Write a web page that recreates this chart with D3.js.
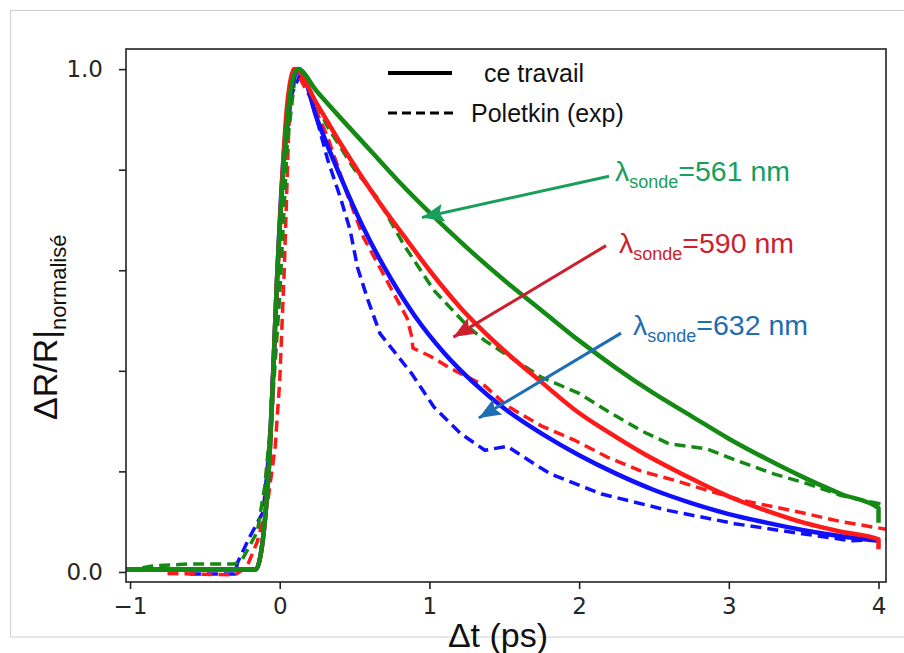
<!DOCTYPE html>
<html>
<head>
<meta charset="utf-8">
<script src="https://cdn.jsdelivr.net/npm/d3@7"></script>
<style>
  html, body { margin: 0; padding: 0; background: #fff; }
  svg { display: block; }
</style>
</head>
<body>
<svg id="chart" width="904" height="653"></svg>
<script>
// ---- data ----
const xTicks = [-1, 0, 1, 2, 3, 4];
const xTickLabels = ["\u22121", "0", "1", "2", "3", "4"];
const yTicks = [0, 0.2, 0.4, 0.6, 0.8, 1.0];
const yTickLabels = ["0.0", "", "", "", "", "1.0"];

const green561Model = [[-1.03,0.005],[-0.16,0.005],[-0.13,0.03],[-0.1,0.1],[-0.07,0.22],[-0.05,0.35],[-0.02,0.57],[0.02,0.78],[0.05,0.9],[0.08,0.97],[0.12,1.0],[0.25,0.955],[0.4,0.905],[0.6,0.84],[0.8,0.775],[1.0,0.715],[1.25,0.645],[1.5,0.58],[1.75,0.52],[2.0,0.46],[2.25,0.405],[2.5,0.355],[2.75,0.31],[3.0,0.265],[3.25,0.225],[3.5,0.188],[3.75,0.155],[4.0,0.127],[4.0,0.098]];
const red590Model = [[-1.03,0.005],[-0.16,0.005],[-0.13,0.03],[-0.1,0.1],[-0.07,0.22],[-0.05,0.35],[-0.02,0.57],[0.02,0.8],[0.05,0.93],[0.1,1.0],[0.25,0.93],[0.4,0.855],[0.55,0.785],[0.7,0.72],[0.85,0.66],[1.0,0.6],[1.2,0.528],[1.5,0.44],[1.75,0.377],[2.0,0.316],[2.2,0.277],[2.45,0.232],[2.7,0.193],[3.0,0.15],[3.25,0.122],[3.5,0.098],[3.75,0.08],[4.0,0.065],[4.0,0.045]];
const blue632Model = [[-1.03,0.005],[-0.16,0.005],[-0.13,0.03],[-0.1,0.1],[-0.07,0.22],[-0.05,0.35],[-0.02,0.57],[0.02,0.8],[0.06,0.93],[0.13,1.0],[0.25,0.9],[0.4,0.79],[0.55,0.69],[0.7,0.605],[0.9,0.51],[1.1,0.435],[1.3,0.375],[1.5,0.325],[1.75,0.275],[2.0,0.232],[2.25,0.195],[2.5,0.163],[2.75,0.137],[3.0,0.115],[3.25,0.098],[3.5,0.083],[3.75,0.071],[4.0,0.062]];

const green561Exp = [[-1.03,0.003],[-0.85,0.012],[-0.6,0.016],[-0.3,0.016],[-0.25,0.025],[-0.15,0.08],[-0.1,0.17],[-0.05,0.33],[0.0,0.55],[0.05,0.85],[0.1,0.98],[0.15,0.99],[0.32,0.885],[0.5,0.8],[0.65,0.745],[0.83,0.65],[1.03,0.56],[1.26,0.487],[1.37,0.46],[1.5,0.435],[1.75,0.387],[2.0,0.355],[2.2,0.318],[2.42,0.28],[2.6,0.255],[2.85,0.245],[3.05,0.222],[3.3,0.195],[3.52,0.176],[3.75,0.152],[4.0,0.136],[4.05,0.133]];
const red590Exp = [[-0.75,-0.003],[-0.3,-0.006],[-0.22,0.01],[-0.15,0.06],[-0.08,0.14],[-0.03,0.25],[0.0,0.38],[0.03,0.6],[0.06,0.88],[0.09,1.0],[0.12,0.99],[0.21,0.94],[0.32,0.865],[0.45,0.752],[0.56,0.665],[0.7,0.588],[0.85,0.505],[0.88,0.47],[0.89,0.445],[1.0,0.43],[1.14,0.405],[1.37,0.37],[1.52,0.33],[1.75,0.29],[1.97,0.262],[2.19,0.228],[2.42,0.2],[2.64,0.182],[2.86,0.162],[3.09,0.142],[3.31,0.129],[3.53,0.115],[3.75,0.1],[4.05,0.085]];
const blue632Exp = [[-0.6,-0.004],[-0.3,-0.004],[-0.28,0.02],[-0.2,0.07],[-0.11,0.12],[-0.07,0.25],[-0.03,0.5],[0.02,0.8],[0.08,0.95],[0.15,1.0],[0.23,0.92],[0.32,0.82],[0.41,0.74],[0.47,0.68],[0.52,0.605],[0.59,0.54],[0.67,0.474],[0.76,0.44],[0.88,0.395],[1.03,0.328],[1.21,0.275],[1.37,0.242],[1.52,0.25],[1.7,0.215],[1.81,0.195],[2.15,0.155],[2.6,0.122],[3.04,0.096],[3.49,0.076],[3.82,0.062],[4.05,0.066]];

const legendLabels = ["ce travail", "Poletkin (exp)"];
const annotationLabels = [
  { wl: "=561 nm", color: "#1a9e5c", from: [2.2, 0.787], to: [0.95, 0.705] },
  { wl: "=590 nm", color: "#cc1f2f", from: [2.18, 0.649], to: [1.16, 0.467] },
  { wl: "=632 nm", color: "#1f6db3", from: [2.28, 0.475], to: [1.33, 0.306] }
];

// ---- drawing ----
const svg = d3.select("#chart");
const m = { left: 126, right: 886, top: 49, bottom: 582 };

const x = d3.scaleLinear().domain([-1.027, 4.05]).range([m.left, m.right]);
const y = d3.scaleLinear().domain([-0.02, 1.04]).range([m.bottom, m.top]);

// outer frame
svg.append("rect").attr("x", 10.5).attr("y", 10.5).attr("width", 900).attr("height", 626.5)
  .attr("fill", "none").attr("stroke", "#cfcfcf").attr("stroke-width", 1);

svg.append("defs").append("clipPath").attr("id", "clip")
  .append("rect").attr("x", m.left).attr("y", m.top)
  .attr("width", m.right - m.left).attr("height", m.bottom - m.top);

const line = d3.line().x(d => x(d[0])).y(d => y(d[1]));
const smooth = d3.line().x(d => x(d[0])).y(d => y(d[1])).curve(d3.curveMonotoneX);

const plot = svg.append("g").attr("clip-path", "url(#clip)");
const dashed = [
  { data: blue632Exp, color: "#1010ff" },
  { data: red590Exp, color: "#ff1a1a" },
  { data: green561Exp, color: "#148a14" }
];
const solid = [
  { data: blue632Model, color: "#1010ff" },
  { data: red590Model, color: "#ff1a1a" },
  { data: green561Model, color: "#148a14" }
];
dashed.forEach(s => plot.append("path").attr("d", line(s.data))
  .attr("fill", "none").attr("stroke", s.color).attr("stroke-width", 3.5)
  .attr("stroke-dasharray", "11,6").attr("stroke-linejoin", "round"));
solid.forEach(s => plot.append("path").attr("d", smooth(s.data))
  .attr("fill", "none").attr("stroke", s.color).attr("stroke-width", 4.5)
  .attr("stroke-linejoin", "round"));

// axes
const xAxis = d3.axisBottom(x).tickValues(xTicks)
  .tickFormat((d, i) => xTickLabels[i]).tickSize(7).tickPadding(9).tickSizeOuter(0);
const yAxis = d3.axisLeft(y).tickValues(yTicks)
  .tickFormat((d, i) => yTickLabels[i]).tickSize(7).tickPadding(16).tickSizeOuter(0);

const gx = svg.append("g").attr("transform", `translate(0,${m.bottom})`).call(xAxis);
const gy = svg.append("g").attr("transform", `translate(${m.left},0)`).call(yAxis);
[gx, gy].forEach(g => {
  g.select(".domain").remove();
  g.selectAll(".tick line").attr("stroke", "#222").attr("stroke-width", 1.6);
  g.selectAll(".tick text").attr("fill", "#262626")
    .style("font-family", "'DejaVu Sans', sans-serif").style("font-size", "23px");
});

// spines
svg.append("rect").attr("x", m.left).attr("y", m.top)
  .attr("width", m.right - m.left).attr("height", m.bottom - m.top)
  .attr("fill", "none").attr("stroke", "#222").attr("stroke-width", 1.6);

// axis labels
svg.append("text").attr("x", 498).attr("y", 647).attr("text-anchor", "middle")
  .style("font-family", "'Liberation Sans', Arial, sans-serif").style("font-size", "34px")
  .attr("fill", "#111").text("\u0394t (ps)");

const yl = svg.append("text").attr("transform", "translate(57,420) rotate(-90)")
  .style("font-family", "'Liberation Sans', Arial, sans-serif").attr("fill", "#111");
yl.append("tspan").style("font-size", "34px").text("\u0394R/R|");
yl.append("tspan").attr("dy", 9).style("font-size", "22px").text("normalisé");

// legend
const lg = svg.append("g").style("font-family", "'Liberation Sans', Arial, sans-serif")
  .style("font-size", "25px").attr("fill", "#111");
lg.append("line").attr("x1", 388).attr("x2", 452).attr("y1", 73).attr("y2", 73)
  .attr("stroke", "#000").attr("stroke-width", 4);
lg.append("text").attr("x", 484).attr("y", 82).text(legendLabels[0]);
lg.append("line").attr("x1", 388).attr("x2", 458).attr("y1", 113).attr("y2", 113)
  .attr("stroke", "#000").attr("stroke-width", 3.2).attr("stroke-dasharray", "9,5");
lg.append("text").attr("x", 471).attr("y", 122).text(legendLabels[1]);

// annotations
const defs = svg.select("defs");
annotationLabels.forEach((a, i) => {
  const id = "arrow" + i;
  defs.append("marker").attr("id", id).attr("markerUnits", "userSpaceOnUse")
    .attr("viewBox", "0 0 22 18").attr("refX", 22).attr("refY", 9)
    .attr("markerWidth", 22).attr("markerHeight", 18).attr("orient", "auto")
    .append("path").attr("d", "M0,0 L22,9 L0,18 L4,9 Z").attr("fill", a.color);
  svg.append("line")
    .attr("x1", x(a.from[0])).attr("y1", y(a.from[1]))
    .attr("x2", x(a.to[0])).attr("y2", y(a.to[1]))
    .attr("stroke", a.color).attr("stroke-width", 3)
    .attr("marker-end", `url(#${id})`);
});
const annPos = [[615, 181], [619, 253], [633, 335]];
annotationLabels.forEach((a, i) => {
  const t = svg.append("text").attr("x", annPos[i][0]).attr("y", annPos[i][1])
    .style("font-family", "'Liberation Sans', Arial, sans-serif").attr("fill", a.color);
  t.append("tspan").style("font-size", "28.5px").text("\u03bb");
  t.append("tspan").style("font-size", "18px").attr("dy", 7).text("sonde");
  t.append("tspan").style("font-size", "28.5px").attr("dy", -7).text(a.wl);
});
</script>
</body>
</html>
